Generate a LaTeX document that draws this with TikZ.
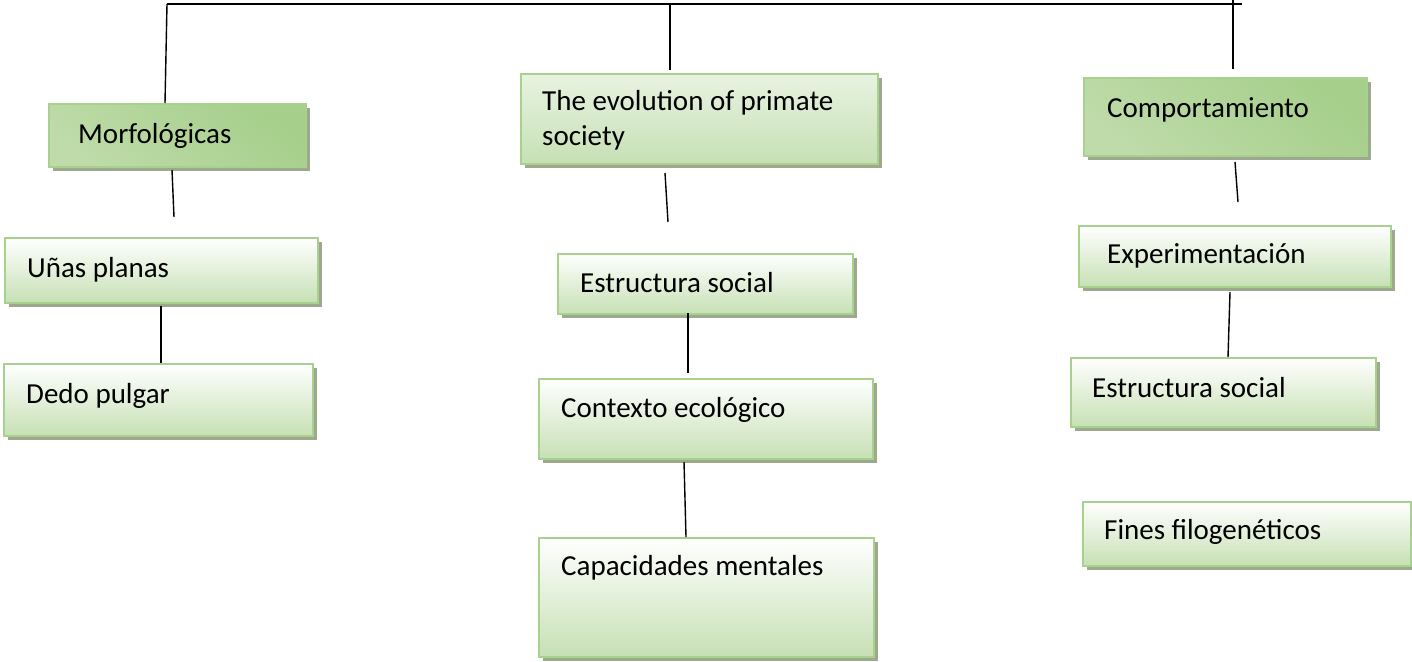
\documentclass[tikz,border=0pt]{standalone}
\usepackage{fontspec}
\setmainfont{Carlito}
\usetikzlibrary{shadows}
\definecolor{bordergreen}{HTML}{A9D18E}
\definecolor{fillgreen}{HTML}{C6E0B4}
\definecolor{topdark}{HTML}{A6CF8B}
\definecolor{toplight}{HTML}{E4F0DB}
\definecolor{topmid}{HTML}{BEDBA9}
\definecolor{shadowgray}{HTML}{9DA98E}
\tikzset{
  box/.style={draw=bordergreen, line width=2pt, anchor=north west, inner sep=0pt,
    drop shadow={shadow xshift=3.5pt, shadow yshift=-3.5pt, fill=shadowgray, opacity=1},
    top color=white, bottom color=fillgreen},
  topbox/.style={box, top color=topdark, middle color=toplight, bottom color=topmid, shading angle=-40},
  lbl/.style={anchor=base west, inner sep=0pt, font=\fontsize{29pt}{35pt}\selectfont},
  conn/.style={line width=1.4pt, black},
}
\begin{document}
\begin{tikzpicture}[x=1pt, y=-1pt]
\useasboundingbox (0,0) rectangle (1412,661);

% top bar
\coordinate (barL) at (167,4);
\coordinate (barR) at (1242,4);
\coordinate (barM) at (670,4);
\coordinate (barRt) at (1233,0);
\draw[conn] (barL) -- (barR);

% boxes
\node[topbox, minimum width=257pt, minimum height=63pt] (morf) at (48,103) {};
\node[lbl] (morft) at (78,143) {Morfológicas};
\node[box, top color=white!60!fillgreen, minimum width=357pt, minimum height=90pt] (evo) at (520,73) {};
\node[lbl] (evot1) at (542,110) {The evolution of primate};
\node[lbl] (evot2) at (542,145) {society};
\node[topbox, minimum width=283pt, minimum height=78pt] (comp) at (1083,77) {};
\node[lbl] (compt) at (1107,117) {Comportamiento};

\node[box, minimum width=313pt, minimum height=65pt] (unas) at (4,237) {};
\node[lbl] (unast) at (27,277) {Uñas planas};
\node[box, minimum width=309pt, minimum height=72pt] (dedo) at (3,363) {};
\node[lbl] (dedot) at (26,403) {Dedo pulgar};

\node[box, minimum width=295pt, minimum height=60pt] (estm) at (557,253) {};
\node[lbl] (estmt) at (580,292) {Estructura social};
\node[box, minimum width=334pt, minimum height=80pt] (ctx) at (538,378) {};
\node[lbl] (ctxt) at (561,417) {Contexto ecológico};
\node[box, minimum width=335pt, minimum height=119pt] (cap) at (538,537) {};
\node[lbl] (capt) at (561,575) {Capacidades mentales};

\node[box, minimum width=312pt, minimum height=61pt] (exp) at (1078,225) {};
\node[lbl] (expt) at (1107,263) {Experimentación};
\node[box, minimum width=305pt, minimum height=69pt] (estr) at (1070,357) {};
\node[lbl] (estrt) at (1092,397) {Estructura social};
\node[box, minimum width=328pt, minimum height=64pt] (fin) at (1082,501) {};
\node[lbl] (fint) at (1104,539) {Fines filogenéticos};

% connectors
\coordinate (c1) at (165,103);
\draw[conn] (barL) -- (c1);
\coordinate (c2) at (670,70);
\draw[conn] (barM) -- (c2);
\coordinate (c3) at (1233,69);
\draw[conn] (barRt) -- (c3);

\coordinate (m1a) at (172,170); \coordinate (m1b) at (174,217);
\draw[conn] (m1a) -- (m1b);
\coordinate (m2a) at (161,306); \coordinate (m2b) at (161,363);
\draw[conn] (m2a) -- (m2b);

\coordinate (e1a) at (665,173); \coordinate (e1b) at (668,222);
\draw[conn] (e1a) -- (e1b);
\coordinate (e2a) at (688,313); \coordinate (e2b) at (688,373);
\draw[conn] (e2a) -- (e2b);
\coordinate (e3a) at (684,462); \coordinate (e3b) at (686,537);
\draw[conn] (e3a) -- (e3b);

\coordinate (r1a) at (1235,162); \coordinate (r1b) at (1238,202);
\draw[conn] (r1a) -- (r1b);
\coordinate (r2a) at (1230,292); \coordinate (r2b) at (1228,357);
\draw[conn] (r2a) -- (r2b);
\end{tikzpicture}
\end{document}
